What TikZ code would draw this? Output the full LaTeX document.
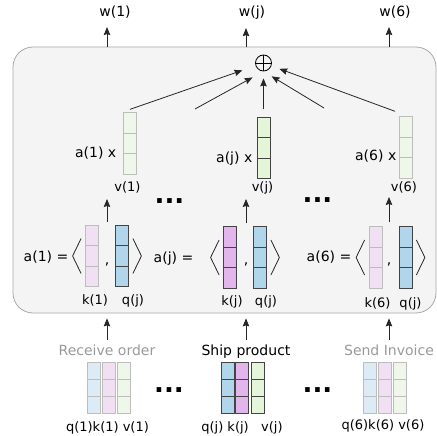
\documentclass[tikz,border=0pt]{standalone}
\usepackage{fontspec}
\setmainfont{DejaVu Sans}
\usetikzlibrary{calc,arrows.meta}

\definecolor{qblue}{HTML}{B1D5EA}
\definecolor{qpale}{HTML}{DCEBF5}
\definecolor{kpink}{HTML}{E2B6EC}
\definecolor{kpale}{HTML}{F1E0F4}
\definecolor{vgreen}{HTML}{E5F5D9}
\definecolor{vpale}{HTML}{EFF6EA}
\definecolor{edgeon}{HTML}{444444}
\definecolor{edgeoff}{HTML}{BDBDBD}
\definecolor{framefill}{HTML}{F4F4F4}
\definecolor{frameline}{HTML}{A8A8A8}
\definecolor{fadetext}{HTML}{999999}

\tikzset{
  vec/.style n args={3}{fill=#1, draw=#2, line width=0.8pt, minimum width=13pt,
    minimum height=#3, inner sep=0pt,
    path picture={\foreach \f in {1,2}{\draw[#2, line width=0.8pt]
      ($(path picture bounding box.north west)!\f/3!(path picture bounding box.south west)$) --
      ($(path picture bounding box.north east)!\f/3!(path picture bounding box.south east)$);}}},
  lab/.style={font=\fontsize{14}{16}\selectfont, inner sep=0pt},
  sublab/.style={font=\fontsize{13}{15}\selectfont, inner sep=0pt, anchor=base},
  ellip/.style={font=\fontsize{26}{26}\selectfont\bfseries, inner sep=0pt, anchor=base},
  arr/.style={draw=black!85, line width=0.8pt, -{Stealth[length=8pt,width=6.5pt,inset=1pt]}},
  brk/.style={draw=black!85, line width=0.8pt},
}

\begin{document}
\begin{tikzpicture}[x=1pt, y=1pt, yscale=-1]
\useasboundingbox (0,0) rectangle (437,436);

% frame
\node[draw=frameline, fill=framefill, line width=0.8pt, rounded corners=20pt,
      minimum width=423pt, minimum height=266pt, inner sep=0pt] (frame) at (224.5,180) {};

% outputs
\node[lab, anchor=base] (w1) at (115,16.5) {w(1)};
\node[lab, anchor=base] (wj) at (252,16.5) {w(j)};
\node[lab, anchor=base] (w6) at (395,16.5) {w(6)};

\node[draw, circle, minimum size=16pt, inner sep=0pt, line width=0.8pt,
      path picture={\draw[line width=0.8pt] (path picture bounding box.north) -- (path picture bounding box.south)
                    (path picture bounding box.west) -- (path picture bounding box.east);}] (sum) at (263.5,63) {};

% weighted values
\node[vec={vpale}{edgeoff}{61.5pt}] (v1) at (130,143.5) {};
\node[vec={vgreen}{edgeon}{61.5pt}] (vj) at (263.5,148) {};
\node[vec={vpale}{edgeoff}{61.5pt}] (v6) at (406,147.5) {};

\node[lab, anchor=base east] (m1) at (116.5,157.5) {a(1) x};
\node[lab, anchor=base east] (mj) at (252.5,162.5) {a(j) x};
\node[lab, anchor=base east] (m6) at (396.5,160.5) {a(6) x};

\node[sublab] (v1l) at (127.5,191.5) {v(1)};
\node[sublab] (vjl) at (262.5,191.5) {v(j)};
\node[sublab] (v6l) at (404,191.5) {v(6)};

\node[ellip] (d1) at (169.5,203) {...};
\node[ellip] (d2) at (317.5,202) {...};

% scores
\node[lab, anchor=base east] (a1) at (68.5,261.5) {a(1) =};
\node[vec={kpale}{edgeoff}{61.5pt}] (k1) at (92,256) {};
\node[lab, anchor=base] (c1) at (107,264) {,};
\node[vec={qblue}{edgeon}{61.5pt}] (q1) at (122,256) {};
\node[sublab] (k1l) at (95,304) {k(1)};
\node[sublab] (q1l) at (133,304) {q(j)};

\node[lab, anchor=base east] (aj) at (193.5,262) {a(j) =};
\node[vec={kpink}{edgeon}{61.5pt}] (kj) at (230,257.5) {};
\node[lab, anchor=base] (cj) at (246,264) {,};
\node[vec={qblue}{edgeon}{61.5pt}] (qj) at (260,257.5) {};
\node[sublab] (kjl) at (232,305) {k(j)};
\node[sublab] (qjl) at (266,305) {q(j)};

\node[lab, anchor=base east] (a6) at (351.5,261) {a(6) =};
\node[vec={kpale}{edgeoff}{61.5pt}] (k6) at (375.5,257.5) {};
\node[lab, anchor=base] (c6) at (389,264) {,};
\node[vec={qblue}{edgeon}{61.5pt}] (q6) at (405.5,257.5) {};
\node[sublab] (k6l) at (377.5,307) {k(6)};
\node[sublab] (q6l) at (410.5,307) {q(j)};

\foreach \c in {1,j,6}{
  \draw[brk] ($(k\c.west)+(-4,-17.5)$) -- ($(k\c.west)+(-12.5,0)$) -- ($(k\c.west)+(-4,17.5)$);
  \draw[brk] ($(q\c.east)+(4,-17.5)$) -- ($(q\c.east)+(12.5,0)$) -- ($(q\c.east)+(4,17.5)$);
}

% inputs
\node[lab, anchor=base, text=fadetext] (t1) at (107,355) {Receive order};
\node[lab, anchor=base] (tj) at (246,355) {Ship product};
\node[lab, anchor=base, text=fadetext] (t6) at (389,355) {Send Invoice};

\node[vec={qpale}{edgeoff}{51pt}] (bq1) at (93.5,387.5) {};
\node[vec={kpale}{edgeoff}{51pt}] (bk1) at (108.5,387.5) {};
\node[vec={vpale}{edgeoff}{51pt}] (bv1) at (123.5,387.5) {};
\node[vec={qblue}{edgeon}{51pt}] (bqj) at (227.5,387.5) {};
\node[vec={kpink}{edgeon}{51pt}] (bkj) at (242,387.5) {};
\node[vec={vgreen}{edgeon}{51pt}] (bvj) at (258,387.5) {};
\node[vec={qpale}{edgeoff}{51pt}] (bq6) at (370,387.5) {};
\node[vec={kpale}{edgeoff}{51pt}] (bk6) at (385,387.5) {};
\node[vec={vpale}{edgeoff}{51pt}] (bv6) at (400,387.5) {};

\node[sublab] (bl1) at (107.5,431) {q(1)k(1) v(1)};
\node[sublab] (blj) at (242,431) {q(j) k(j)~~ v(j)};
\node[sublab] (bl6) at (383,429.5) {q(6)k(6) v(6)};

\node[ellip] (d3) at (169,392) {...};
\node[ellip] (d4) at (317.5,392) {...};

% connectors
\coordinate (f2) at (195,109);
\coordinate (f4) at (324,108);
\coordinate (u1) at (107,199);
\coordinate (uj) at (246,199);
\coordinate (u6) at (389,197);

\draw[arr, shorten >=8.5pt] (t1 |- frame.north) -- (t1 |- w1.south);
\draw[arr, shorten >=8.5pt] (tj |- frame.north) -- (tj |- wj.south);
\draw[arr, shorten >=8.5pt] (t6 |- frame.north) -- (t6 |- w6.south);

\draw[arr, shorten >=14pt] ($(v1.north)+(0,-3)$) -- (sum);
\draw[arr, shorten >=12.5pt] (f2) -- (sum.south);
\draw[arr, shorten <=8pt, shorten >=7pt] (vj.north) -- (sum.south);
\draw[arr, shorten >=9.5pt] (f4) -- (sum.south);
\draw[arr, shorten >=8.5pt] ($(v6.north west)+(-4,-5)$) -- (sum);

\draw[arr, shorten <=3pt] (c1 |- k1.north) -- (u1);
\draw[arr, shorten <=3pt] (cj |- kj.north) -- (uj);
\draw[arr, shorten <=4pt] (c6 |- k6.north) -- (u6);

\draw[arr, shorten <=4.5pt, shorten >=5pt] (t1.north) -- (t1 |- frame.south);
\draw[arr, shorten <=4.5pt, shorten >=5pt] (tj.north) -- (tj |- frame.south);
\draw[arr, shorten <=4.5pt, shorten >=5pt] (t6.north) -- (t6 |- frame.south);
\end{tikzpicture}
\end{document}
